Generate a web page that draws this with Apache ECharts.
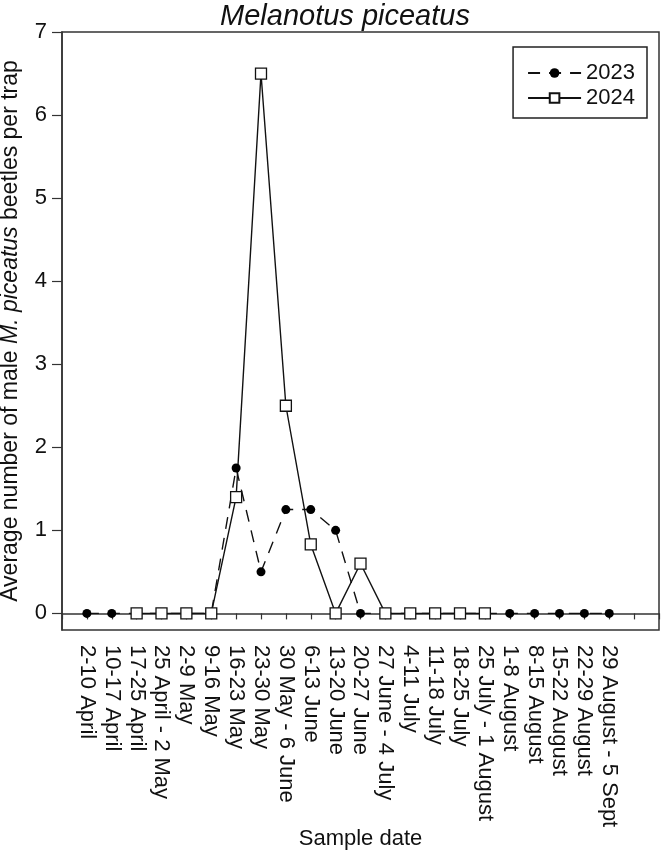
<!DOCTYPE html>
<html>
<head>
<meta charset="utf-8">
<script src="https://cdn.jsdelivr.net/npm/echarts@6/dist/echarts.min.js"></script>
<style>
    html, body { margin: 0; padding: 0; background: #fff; }
    #main { width: 662px; height: 855px; }
</style>
</head>
<body>
<div id="main"></div>
<script>
    // sample dates (x axis)
    var dates = ['2-10 April', '10-17 April', '17-25 April', '25 April - 2 May', '2-9 May',
        '9-16 May', '16-23 May', '23-30 May', '30 May - 6 June', '6-13 June', '13-20 June',
        '20-27 June', '27 June - 4 July', '4-11 July', '11-18 July', '18-25 July',
        '25 July - 1 August', '1-8 August', '8-15 August', '15-22 August', '22-29 August',
        '29 August - 5 Sept'];
    // average beetles per trap
    var y2023 = [0, 0, 0, 0, 0, 0, 1.75, 0.5, 1.25, 1.25, 1, 0, 0, 0, 0, 0, 0, 0, 0, 0, 0, 0];
    var y2024 = [null, null, 0, 0, 0, 0, 1.4, 6.5, 2.5, 0.83, 0, 0.6, 0, 0, 0, 0, 0, null, null, null, null, null];
    var yTicks = [0, 1, 2, 3, 4, 5, 6, 7];

    // pad the category axis: one empty slot before, two after
    var cats = [''].concat(dates, ['', '']);
    function pad(arr) { return [null].concat(arr, [null, null]); }

    var font = 'Liberation Sans, Arial, sans-serif';
    var axisCol = '#333';
    var txtCol = '#111';

    var chart = echarts.init(document.getElementById('main'));
    var option = {
        animation: false,
        title: {
            text: 'Melanotus piceatus',
            left: 340,
            textAlign: 'center',
            top: -3,
            textStyle: { fontFamily: font, fontSize: 29, fontStyle: 'italic', fontWeight: 'normal', color: txtCol }
        },
        legend: {
            orient: 'vertical',
            right: 15,
            top: 47,
            padding: [15, 12, 9, 14],
            itemWidth: 53,
            itemHeight: 12,
            itemGap: 3,
            borderColor: '#222',
            borderWidth: 1.5,
            textStyle: { fontFamily: font, fontSize: 22, color: txtCol },
            data: ['2023', '2024']
        },
        grid: {
            left: 62, right: 3, top: 32, bottom: 225,
            outerBoundsMode: 'none',
            show: true, borderColor: axisCol, borderWidth: 1.5
        },
        xAxis: {
            type: 'category',
            data: cats,
            boundaryGap: false,
            name: 'Sample date',
            nameLocation: 'middle',
            nameGap: 198,
            nameMoveOverlap: false,
            nameTextStyle: { fontFamily: font, fontSize: 22, color: txtCol },
            axisLine: { lineStyle: { color: axisCol, width: 1.5 } },
            axisTick: { interval: 0, length: 6, lineStyle: { color: axisCol, width: 1.2 } },
            axisLabel: { interval: 0, rotate: -90, margin: 15, fontFamily: font, fontSize: 22, color: txtCol },
            splitLine: { show: false }
        },
        yAxis: {
            type: 'value',
            min: -0.2,
            max: 7,
            name: 'Average number of male {i|M. piceatus} beetles per trap',
            nameLocation: 'middle',
            nameGap: 40,
            nameMoveOverlap: false,
            nameTextStyle: {
                fontFamily: font, fontSize: 23, color: txtCol,
                rich: { i: { fontFamily: font, fontSize: 23, fontStyle: 'italic', color: txtCol } }
            },
            axisLine: { show: true, lineStyle: { color: axisCol, width: 1.5 } },
            axisTick: { show: true, customValues: yTicks, length: 10, lineStyle: { color: axisCol, width: 1.2 } },
            axisLabel: { customValues: yTicks, margin: 15, fontFamily: font, fontSize: 22, color: txtCol },
            splitLine: { show: false }
        },
        series: [{
            name: '2023',
            type: 'line',
            data: pad(y2023),
            symbol: 'circle',
            symbolSize: 9,
            itemStyle: { color: '#000' },
            lineStyle: { color: '#111', width: 1.4, type: [12, 9] }
        }, {
            name: '2024',
            type: 'line',
            data: pad(y2024),
            symbol: 'rect',
            symbolSize: 11,
            connectNulls: false,
            itemStyle: { color: '#fff', borderColor: '#111', borderWidth: 1.3 },
            lineStyle: { color: '#111', width: 1.4 }
        }]
    };
    chart.setOption(option);
</script>
</body>
</html>
